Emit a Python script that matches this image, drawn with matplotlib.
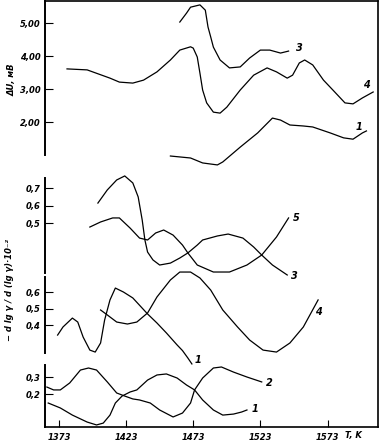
import matplotlib
matplotlib.use("Agg")
import matplotlib.pyplot as plt

# temperature axis
t_ticks = [1373, 1423, 1473, 1523, 1573]

# top panel: dE, mV
t_top3 = [1463, 1468, 1471, 1478, 1482, 1484, 1486, 1488, 1493, 1500, 1508, 1515, 1523, 1530, 1538, 1544]
e_top3 = [5.03, 5.30, 5.48, 5.55, 5.39, 4.88, 4.58, 4.27, 3.88, 3.64, 3.67, 3.94, 4.18, 4.18, 4.09, 4.15]

t_top4 = [1379, 1394, 1411, 1418, 1428, 1436, 1446, 1456, 1463, 1471, 1473, 1476, 1478, 1480, 1483, 1488,
          1493, 1498, 1508, 1518, 1528, 1535, 1543, 1547, 1552, 1556, 1562, 1570, 1577, 1586, 1592, 1599, 1607]
e_top4 = [3.61, 3.58, 3.33, 3.21, 3.18, 3.27, 3.52, 3.88, 4.18, 4.28, 4.24, 3.97, 3.48, 2.97, 2.58, 2.30,
          2.27, 2.45, 2.97, 3.42, 3.64, 3.52, 3.33, 3.42, 3.79, 3.88, 3.73, 3.27, 2.97, 2.58, 2.55, 2.73, 2.91]

t_top1 = [1456, 1471, 1480, 1491, 1495, 1508, 1521, 1532, 1538, 1545, 1555, 1562, 1575, 1585, 1592, 1599, 1602]
e_top1 = [0.97, 0.91, 0.76, 0.70, 0.79, 1.24, 1.67, 2.12, 2.06, 1.91, 1.88, 1.85, 1.67, 1.52, 1.48, 1.67, 1.73]

# lower panel, group A (curves 5 and 3)
t_a3 = [1402, 1409, 1416, 1422, 1428, 1432, 1435, 1437, 1439, 1443, 1448, 1456, 1463, 1469, 1476, 1480,
        1491, 1499, 1510, 1518, 1524, 1532, 1543]
g_a3 = [0.614, 0.689, 0.746, 0.769, 0.729, 0.649, 0.517, 0.403, 0.334, 0.289, 0.26, 0.271, 0.30, 0.329,
        0.374, 0.403, 0.426, 0.437, 0.414, 0.363, 0.317, 0.26, 0.203]

t_a5 = [1396, 1404, 1413, 1418, 1426, 1433, 1439, 1445, 1451, 1458, 1465, 1469, 1476, 1488, 1500, 1513,
        1524, 1535, 1544]
g_a5 = [0.477, 0.506, 0.529, 0.529, 0.471, 0.414, 0.403, 0.443, 0.46, 0.431, 0.374, 0.329, 0.26, 0.22,
        0.22, 0.26, 0.317, 0.42, 0.529]

# group B (curves 4 and 1)
t_b4 = [1404, 1409, 1416, 1424, 1431, 1439, 1446, 1456, 1463, 1471, 1478, 1486, 1495, 1506, 1515, 1525,
        1535, 1545, 1555, 1566]
g_b4 = [0.491, 0.461, 0.418, 0.406, 0.418, 0.473, 0.57, 0.673, 0.721, 0.721, 0.685, 0.612, 0.491, 0.388,
        0.309, 0.248, 0.236, 0.291, 0.388, 0.552]

t_b1 = [1372, 1376, 1383, 1387, 1391, 1396, 1400, 1404, 1407, 1411, 1415, 1421, 1428, 1439, 1446, 1453,
        1461, 1465, 1469, 1472]
g_b1 = [0.339, 0.388, 0.442, 0.418, 0.327, 0.248, 0.236, 0.291, 0.43, 0.552, 0.624, 0.60, 0.564, 0.467,
        0.412, 0.352, 0.279, 0.245, 0.20, 0.164]

# group C (curves 2 and 1)
t_c2 = [1364, 1369, 1374, 1381, 1389, 1395, 1401, 1409, 1416, 1422, 1428, 1433, 1441, 1448, 1458, 1465,
        1471, 1474, 1480, 1488, 1494, 1503, 1513, 1524]
g_c2 = [0.241, 0.224, 0.224, 0.265, 0.341, 0.353, 0.341, 0.271, 0.206, 0.188, 0.171, 0.165, 0.147, 0.106,
        0.065, 0.088, 0.147, 0.224, 0.294, 0.353, 0.359, 0.329, 0.30, 0.271]

t_c1 = [1365, 1374, 1383, 1394, 1401, 1406, 1411, 1415, 1420, 1426, 1431, 1439, 1446, 1453, 1461, 1468,
        1474, 1480, 1488, 1495, 1503, 1509, 1513]
g_c1 = [0.147, 0.118, 0.076, 0.035, 0.018, 0.029, 0.076, 0.147, 0.188, 0.212, 0.224, 0.282, 0.312, 0.318,
        0.294, 0.253, 0.224, 0.165, 0.106, 0.076, 0.082, 0.094, 0.106]

lw = 0.9
lab_font = dict(fontsize=7, style="italic", fontweight="bold")
tick_font = dict(fontsize=6, style="italic", fontweight="bold")

fig = plt.figure(figsize=(3.81, 4.43), dpi=100)
rect = [0.1181, 0.0361, 0.874, 0.9616]

# frame with temperature axis
frame = fig.add_axes(rect)
frame.set_xlim(1362.6, 1610.6)
frame.set_ylim(0, 1)
frame.set_yticks([])
frame.spines["left"].set_visible(False)
for s in ["top", "right", "bottom"]:
    frame.spines[s].set_linewidth(1.2)
frame.set_xticks(t_ticks)
frame.set_xticklabels([str(t) for t in t_ticks], **tick_font)
frame.tick_params(axis="x", direction="in", length=5, width=0.8, pad=4)
frame.text(1592, -0.021, "T, K", transform=frame.get_xaxis_transform(),
           ha="center", va="center", **tick_font)


def panel(ylim, bounds, ticks, labels):
    ax = fig.add_axes(rect, sharex=frame)
    ax.patch.set_visible(False)
    for s in ["top", "right", "bottom"]:
        ax.spines[s].set_visible(False)
    ax.spines["left"].set_linewidth(1.4)
    ax.spines["left"].set_bounds(*bounds)
    ax.set_ylim(*ylim)
    ax.set_yticks(ticks)
    ax.set_yticklabels(labels, **tick_font)
    ax.tick_params(axis="y", direction="in", length=6, width=0.8, pad=3)
    ax.tick_params(axis="x", bottom=False, labelbottom=False)
    return ax


def curve(ax, t, v, name, dx, dy):
    ax.plot(t, v, color="black", lw=lw, clip_on=False)
    ax.annotate(name, (t[-1], v[-1]), xytext=(dx, dy), textcoords="offset points",
                ha="left", va="center", **lab_font)


ax_top = panel((-7.242, 5.667), (1.0, 5.667), [5, 4, 3, 2], ["5,00", "4,00", "3,00", "2,00"])
curve(ax_top, t_top3, e_top3, "3", 5, 2)
curve(ax_top, t_top4, e_top4, "4", -7, 5)
curve(ax_top, t_top1, e_top1, "1", -8, 3)

ax_a = panel((-0.6657, 1.7686), (0.214, 0.757), [0.7, 0.6, 0.5], ["0,7", "0,6", "0,5"])
curve(ax_a, t_a5, g_a5, "5", 3, 0)
curve(ax_a, t_a3, g_a3, "3", 3, -1)

ax_b = panel((-0.2182, 2.3636), (0.23, 0.69), [0.6, 0.5, 0.4], ["0,6", "0,5", "0,4"])
curve(ax_b, t_b4, g_b4, "4", -2, -9)
curve(ax_b, t_b1, g_b1, "1", 2, 3)

ax_c = panel((0.0059, 2.5118), (0.0059, 0.371), [0.3, 0.2], ["0,3", "0,2"])
curve(ax_c, t_c2, g_c2, "2", 3, -1)
curve(ax_c, t_c1, g_c1, "1", 3, 1)

# axis titles
fig.text(12 / 381, 1 - 80 / 443, "ΔU, мВ", rotation=90, ha="center", va="center", **tick_font)
fig.text(10 / 381, 1 - 290 / 443, "− d lg γ / d (lg γ)·10⁻²", rotation=90,
         ha="center", va="center", **tick_font)

fig.savefig("out.png", dpi=100)
